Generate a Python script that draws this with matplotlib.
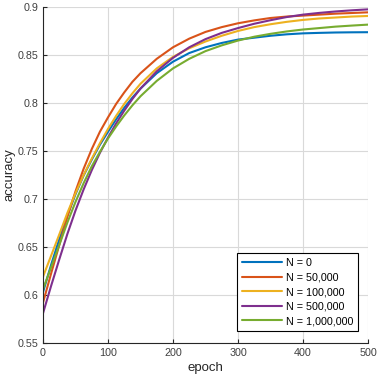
import numpy as np
import matplotlib
matplotlib.use('Agg')
import matplotlib.pyplot as plt

# accuracy (denser where the curves bend most)
epochs = [0, 12.5, 25, 37.5, 50, 62.5, 75, 87.5, 100, 112.5, 125, 137.5, 150,
          175, 200, 225, 250, 275, 300, 325, 350, 375, 400, 425, 450, 475, 500]

acc_n0 = [0.603, 0.6315, 0.658, 0.683, 0.705, 0.7245, 0.741, 0.7565, 0.770, 0.783, 0.795, 0.8056, 0.815,
          0.831, 0.843, 0.852, 0.858, 0.8625, 0.866, 0.868, 0.870, 0.8715, 0.8725, 0.873, 0.8734, 0.8736, 0.8737]
acc_n50k = [0.592, 0.6225, 0.652, 0.6815, 0.708, 0.7315, 0.752, 0.770, 0.785, 0.799, 0.811, 0.822, 0.831,
            0.846, 0.858, 0.867, 0.874, 0.879, 0.883, 0.886, 0.8885, 0.890, 0.891, 0.892, 0.893, 0.8937, 0.8944]
acc_n100k = [0.619, 0.641, 0.663, 0.6855, 0.706, 0.725, 0.742, 0.758, 0.773, 0.7866, 0.799, 0.810, 0.820,
             0.836, 0.848, 0.857, 0.864, 0.870, 0.875, 0.879, 0.882, 0.8845, 0.8865, 0.888, 0.889, 0.890, 0.8906]
acc_n500k = [0.581, 0.6096, 0.637, 0.6636, 0.688, 0.710, 0.730, 0.748, 0.764, 0.7787, 0.792, 0.8041, 0.815,
             0.833, 0.847, 0.858, 0.8665, 0.873, 0.878, 0.8825, 0.8862, 0.8895, 0.892, 0.8938, 0.8953, 0.8965, 0.8975]
acc_n1m = [0.606, 0.629, 0.652, 0.6755, 0.697, 0.7165, 0.734, 0.749, 0.763, 0.7755, 0.787, 0.7975, 0.807,
           0.823, 0.836, 0.846, 0.854, 0.860, 0.865, 0.869, 0.872, 0.8745, 0.8765, 0.878, 0.8795, 0.8806, 0.8816]

labels = ['N = 0', 'N = 50,000', 'N = 100,000', 'N = 500,000', 'N = 1,000,000']
series = [acc_n0, acc_n50k, acc_n100k, acc_n500k, acc_n1m]
colors = ['#0072BD', '#D95319', '#EDB120', '#7E2F8E', '#77AC30']

plt.rcParams['font.family'] = ['Liberation Sans', 'DejaVu Sans']

fig = plt.figure(figsize=(3.78, 3.78), dpi=100)
ax = fig.add_axes([0.1138, 0.0926, 0.8597, 0.889])

for vals, lab, col in zip(series, labels, colors):
    ax.plot(epochs, vals, color=col, lw=1.5, label=lab,
            solid_joinstyle='round', solid_capstyle='round')

ax.set_xlim(0, 500)
ax.set_ylim(0.55, 0.9)
ax.set_xticks([0, 100, 200, 300, 400, 500])
ax.set_yticks([0.55, 0.6, 0.65, 0.7, 0.75, 0.8, 0.85, 0.9])
ax.set_yticklabels(['0.55', '0.6', '0.65', '0.7', '0.75', '0.8', '0.85', '0.9'])
ax.grid(True, color='#d9d9d9', lw=0.8)
ax.set_axisbelow(True)
ax.spines['top'].set_visible(False)
ax.spines['right'].set_visible(False)
for s in ['left', 'bottom']:
    ax.spines[s].set_color('#262626')
    ax.spines[s].set_linewidth(0.8)
ax.tick_params(direction='in', length=3, width=0.8, colors='#262626', labelsize=7.75,
               labelcolor='#404040')
ax.set_xlabel('epoch', fontsize=9.5, color='#262626', labelpad=3)
ax.set_ylabel('accuracy', fontsize=9.5, color='#262626', labelpad=1)

leg = ax.legend(loc='lower right', bbox_to_anchor=(0.969, 0.036), fontsize=7.75,
                frameon=True, fancybox=False, edgecolor='black', framealpha=1,
                handlelength=3.8, handletextpad=0.3, labelspacing=0.42,
                borderpad=0.45, borderaxespad=0)
leg.get_frame().set_linewidth(0.8)

fig.savefig('out.png', dpi=100)
